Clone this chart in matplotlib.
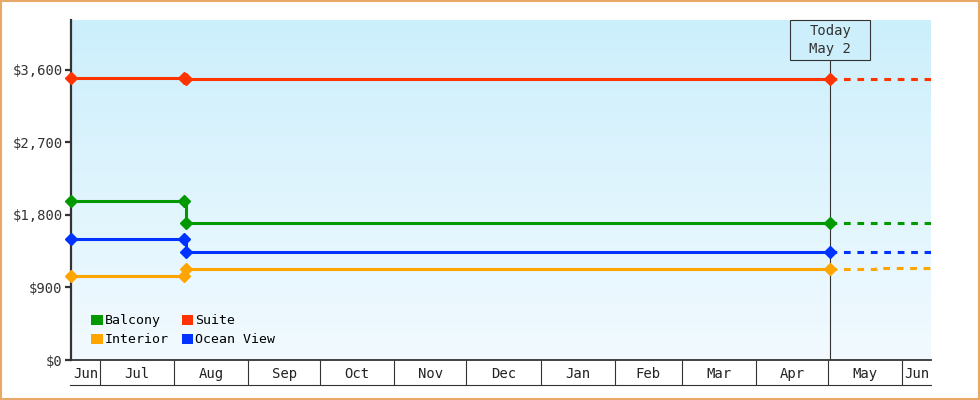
import matplotlib
matplotlib.use("Agg")
import matplotlib.pyplot as plt
import matplotlib.dates as mdates
from matplotlib.patches import Patch, Rectangle
from matplotlib.ticker import FuncFormatter
import numpy as np
import pandas as pd

# Datos
fechas = pd.to_datetime(["2024-06-19", "2024-08-05", "2024-08-06", "2025-05-02"])
fechas_futuro = pd.to_datetime(["2025-05-02", "2025-05-21", "2025-06-13"])
hoy = pd.Timestamp("2025-05-02")
inicio = pd.Timestamp("2024-06-19")
fin = pd.Timestamp("2025-06-13")

balcony = [1975, 1975, 1700, 1700]
suite = [3500, 3500, 3490, 3490]
interior = [1040, 1040, 1125, 1125]
ocean_view = [1500, 1500, 1340, 1340]

balcony_fut = [1700, 1700, 1700]
suite_fut = [3490, 3490, 3490]
interior_fut = [1125, 1137, 1137]
ocean_view_fut = [1340, 1340, 1340]

series = [
    ("Balcony", balcony, balcony_fut, "#009900"),
    ("Interior", interior, interior_fut, "#ffa500"),
    ("Suite", suite, suite_fut, "#ff3300"),
    ("Ocean View", ocean_view, ocean_view_fut, "#0033ff"),
]

y_ticks = [0, 900, 1800, 2700, 3600]
y_max = 4220

fuente = "DejaVu Sans Mono"
plt.rcParams["font.family"] = fuente
plt.rcParams["font.size"] = 9.5

fig = plt.figure(figsize=(9.8, 4.0), dpi=100)
ax = fig.add_axes([71 / 980, 40 / 400, 860 / 980, 340 / 400])

x0, x1 = mdates.date2num(inicio), mdates.date2num(fin)
ax.set_xlim(x0, x1)
ax.set_ylim(0, y_max)

# Fondo degradado
grad = np.linspace(0, 1, 256).reshape(-1, 1)
top = np.array([0xCC, 0xEF, 0xFC]) / 255
bot = np.array([0xF2, 0xFA, 0xFF]) / 255
img = top * (1 - grad)[..., None] + bot * grad[..., None]
ax.imshow(img, extent=[x0, x1, 0, y_max], aspect="auto", zorder=0, origin="upper")

# Series
for nombre, vals, fut, color in series:
    ax.plot(fechas, vals, color=color, lw=2.2, drawstyle="steps-post", zorder=3)
    ax.plot(fechas, vals, color=color, lw=0, marker="D", ms=6, zorder=4, clip_on=False)
    ax.plot(fechas_futuro, fut, color=color, lw=2.2, drawstyle="steps-post",
            linestyle=(0, (2.2, 2.2)), zorder=3)

# Línea de hoy y caja
x_hoy = (mdates.date2num(hoy) - x0) / (x1 - x0)
caja_y = 300 / 340
ax.plot([x_hoy, x_hoy], [0, caja_y], transform=ax.transAxes, color="#333333",
        lw=0.8, zorder=2)
ax.add_patch(Rectangle((x_hoy - 40 / 860, caja_y), 80 / 860, 40 / 340,
                       transform=ax.transAxes, fc="#cdeffc", ec="#333333",
                       lw=0.8, zorder=5, clip_on=False))
ax.text(x_hoy, (1 + caja_y) / 2, "Today\nMay 2", transform=ax.transAxes,
        ha="center", va="center", color="#333333", linespacing=1.35,
        fontsize=10, zorder=6)

# Ejes
for s in ["top", "right"]:
    ax.spines[s].set_visible(False)
ax.spines["left"].set_color("#333333")
ax.spines["left"].set_linewidth(1.6)
ax.spines["bottom"].set_color("#333333")
ax.spines["bottom"].set_linewidth(1.3)

ax.set_yticks(y_ticks)
ax.yaxis.set_major_formatter(FuncFormatter(lambda v, p: "${:,.0f}".format(v)))
ax.tick_params(axis="y", length=4, width=1.6, color="#333333", labelcolor="#333333",
               pad=2, labelsize=10)

# Meses en cajas
limites = pd.date_range("2024-07-01", "2025-06-01", freq="MS")
ax.set_xticks(mdates.date2num(limites))
ax.set_xticklabels([])
ax.tick_params(axis="x", which="major", length=18, width=0.8, color="#333333",
               direction="out")
bordes = [x0] + list(mdates.date2num(limites)) + [x1]
centros = [(a + b) / 2 for a, b in zip(bordes[:-1], bordes[1:])]
etiquetas = [pd.Timestamp(mdates.num2date(c)).strftime("%b") for c in centros]
ax.set_xticks(centros, minor=True)
ax.set_xticklabels(etiquetas, minor=True)
ax.tick_params(axis="x", which="minor", length=0, pad=5, labelcolor="#222222",
               labelsize=10)
ax.plot([-1 / 860, 1], [-25 / 340, -25 / 340], transform=ax.transAxes,
        color="#333333", lw=0.8, clip_on=False)

# Leyenda
handles = [Patch(fc=c, ec="none", label=n) for n, _, _, c in series]
ax.legend(handles=handles, ncol=2, loc="lower left", bbox_to_anchor=(0.01, 0.005),
          frameon=False, handlelength=0.85, handleheight=0.85, handletextpad=0.15,
          columnspacing=1.0, labelspacing=0.45, fontsize=9.5)

# Borde naranja de la figura
fig.patches.append(Rectangle((0.001, 0.002), 0.998, 0.996, transform=fig.transFigure,
                             fill=False, ec="#e8a868", lw=1.5))

fig.savefig("out.png", dpi=100)
